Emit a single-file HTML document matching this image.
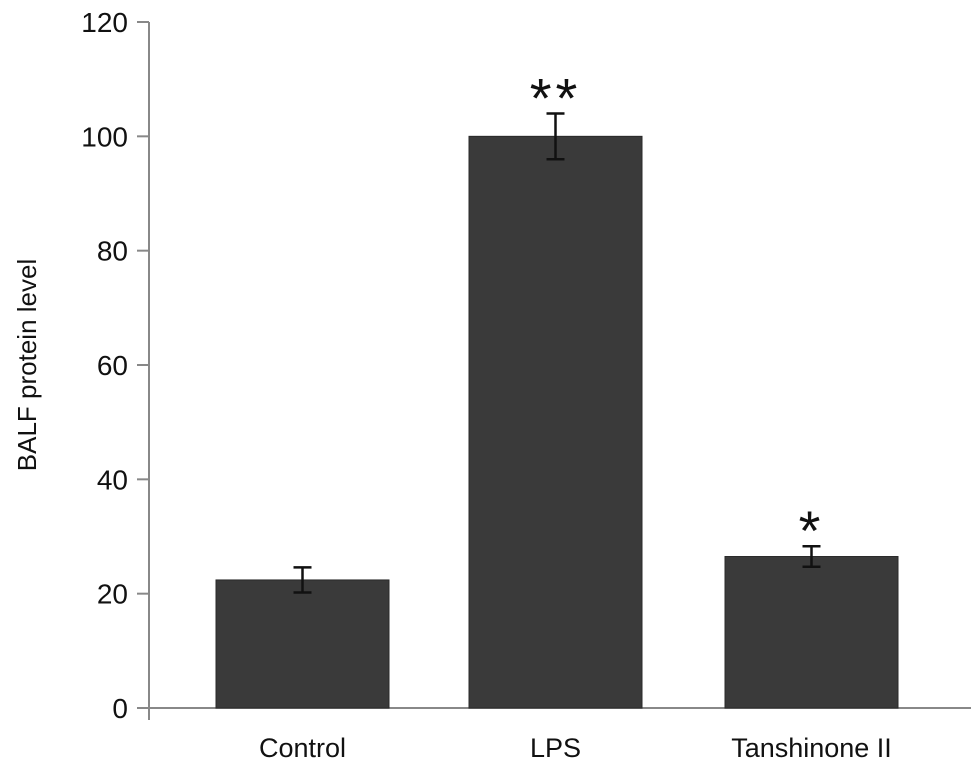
<!DOCTYPE html>
<html><head><meta charset="utf-8"><style>
html,body{margin:0;padding:0;background:#fff;}
svg{display:block;font-family:"Liberation Sans",Arial,sans-serif;}
</style></head><body>
<svg id="chart" width="971" height="772" viewBox="0 0 971 772"></svg>
<script>
const categories = ["Control", "LPS", "Tanshinone II"];
const values = [22.4, 100, 26.5];
const errors = [2.2, 4, 1.8];
const significance = ["", "**", "*"];
const yTicks = [0, 20, 40, 60, 80, 100, 120];

const svg = document.getElementById('chart');
const NS = 'http://www.w3.org/2000/svg';
const x0 = 149, y0 = 708, yTop = 22, yMax = 120;
const barLefts = [216, 469, 725], barW = 173;
function y(v){ return y0 - (v / yMax) * (y0 - yTop); }
function mk(tag, attrs, parent){ const e = document.createElementNS(NS, tag); for (const k in attrs) e.setAttribute(k, attrs[k]); (parent||svg).appendChild(e); return e; }

const yAxis = mk('line', {x1:x0, y1:yTop, x2:x0, y2:720, stroke:'#888', 'stroke-width':2});


const xAxis = mk('line', {x1:137, y1:y0, x2:971, y2:y0, stroke:'#888', 'stroke-width':2});



yTicks.forEach(t => {
  const tk = mk('line', {x1:137, y1:y(t), x2:x0, y2:y(t), stroke:'#888', 'stroke-width':2});
  
  
  const lb = mk('text', {x:128, y:y(t)+10, 'text-anchor':'end', 'font-size':28, fill:'#111'});
  lb.textContent = t;
  
  
});

const yt = mk('text', {x:0, y:0, 'text-anchor':'middle', 'font-size':26, fill:'#111', transform:'translate(36,365) rotate(-90)'});
yt.textContent = 'BALF protein level';



categories.forEach((c, i) => {
  const bx = barLefts[i], cx = bx + barW/2;
  const bar = mk('rect', {x:bx, y:y(values[i]), width:barW, height:y0 - y(values[i]), fill:'#3a3a3a', stroke:'#2a2a2a', 'stroke-width':1});
  
  
  const hi = y(values[i] + errors[i]), lo = y(values[i] - errors[i]);
  const g = mk('g', {stroke:'#111', 'stroke-width':2.5});
  
  
  mk('line', {x1:cx, y1:hi, x2:cx, y2:lo}, g);
  mk('line', {x1:cx-9, y1:hi, x2:cx+9, y2:hi}, g);
  mk('line', {x1:cx-9, y1:lo, x2:cx+9, y2:lo}, g);
  if (significance[i]) {
    const s = mk('text', {x:cx, y:hi + 4, 'text-anchor':'middle', 'font-size':56, 'letter-spacing':4, fill:'#111'});
    s.textContent = significance[i];
    
    
  }
  const lb = mk('text', {x:cx, y:757, 'text-anchor':'middle', 'font-size':27, fill:'#111'});
  lb.textContent = c;
  
  
});
</script>
</body></html>
